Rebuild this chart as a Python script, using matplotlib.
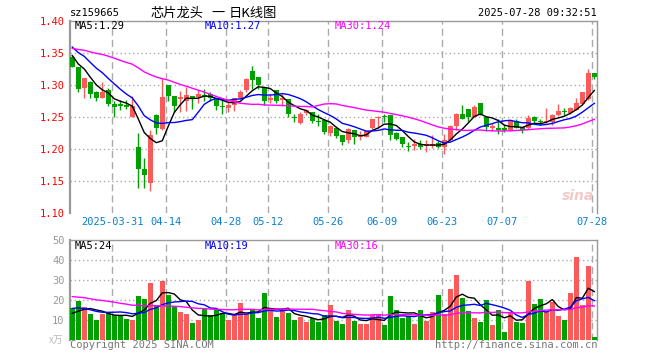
import math
import numpy as np
import pandas as pd
import matplotlib
matplotlib.use('Agg')
import matplotlib.pyplot as plt

# daily candles, 2025-03-20 .. 2025-07-28 (index 0..87)
opens = [1.344, 1.328, 1.295, 1.304, 1.289, 1.280, 1.292, 1.270, 1.270, 1.268,
         1.250, 1.203, 1.168, 1.147, 1.252, 1.231, 1.300, 1.282, 1.277, 1.274,
         1.282, 1.281, 1.284, 1.285, 1.279, 1.267, 1.263, 1.268, 1.280, 1.292,
         1.321, 1.312, 1.296, 1.276, 1.292, 1.276, 1.277, 1.250, 1.240, 1.256,
         1.257, 1.243, 1.245, 1.224, 1.233, 1.221, 1.213, 1.229, 1.218, 1.219,
         1.232, 1.248, 1.251, 1.253, 1.225, 1.218, 1.204, 1.204, 1.208, 1.204,
         1.205, 1.209, 1.202, 1.214, 1.236, 1.255, 1.262, 1.250, 1.271, 1.250,
         1.232, 1.232, 1.233, 1.230, 1.244, 1.234, 1.232, 1.249, 1.244, 1.242,
         1.241, 1.253, 1.259, 1.256, 1.261, 1.270, 1.277, 1.318]
closes = [1.328, 1.294, 1.311, 1.286, 1.280, 1.289, 1.270, 1.265, 1.267, 1.265,
          1.266, 1.169, 1.159, 1.221, 1.232, 1.281, 1.283, 1.266, 1.281, 1.284,
          1.278, 1.286, 1.282, 1.279, 1.267, 1.265, 1.269, 1.279, 1.289, 1.309,
          1.307, 1.300, 1.274, 1.280, 1.274, 1.280, 1.255, 1.248, 1.255, 1.260,
          1.244, 1.241, 1.226, 1.236, 1.220, 1.211, 1.231, 1.219, 1.220, 1.227,
          1.246, 1.250, 1.249, 1.221, 1.215, 1.207, 1.203, 1.207, 1.203, 1.208,
          1.208, 1.202, 1.214, 1.236, 1.255, 1.246, 1.250, 1.265, 1.255, 1.234,
          1.236, 1.230, 1.229, 1.244, 1.233, 1.230, 1.248, 1.243, 1.242, 1.243,
          1.253, 1.259, 1.257, 1.264, 1.272, 1.289, 1.318, 1.312]
highs = [1.346, 1.328, 1.311, 1.306, 1.290, 1.305, 1.295, 1.275, 1.276, 1.276,
         1.282, 1.225, 1.185, 1.230, 1.255, 1.310, 1.300, 1.283, 1.290, 1.297,
         1.282, 1.291, 1.293, 1.288, 1.280, 1.278, 1.274, 1.280, 1.292, 1.310,
         1.329, 1.312, 1.296, 1.286, 1.292, 1.285, 1.277, 1.254, 1.257, 1.262,
         1.257, 1.255, 1.247, 1.237, 1.236, 1.221, 1.232, 1.230, 1.228, 1.229,
         1.247, 1.251, 1.255, 1.253, 1.226, 1.218, 1.210, 1.215, 1.214, 1.213,
         1.221, 1.212, 1.223, 1.237, 1.256, 1.268, 1.262, 1.269, 1.271, 1.250,
         1.240, 1.247, 1.238, 1.245, 1.247, 1.234, 1.253, 1.251, 1.247, 1.263,
         1.254, 1.270, 1.263, 1.265, 1.280, 1.289, 1.324, 1.318]
lows = [1.327, 1.288, 1.279, 1.279, 1.275, 1.279, 1.267, 1.249, 1.261, 1.262,
        1.249, 1.139, 1.139, 1.134, 1.223, 1.229, 1.274, 1.257, 1.257, 1.259,
        1.262, 1.272, 1.274, 1.274, 1.261, 1.254, 1.257, 1.259, 1.278, 1.288,
        1.294, 1.294, 1.269, 1.271, 1.271, 1.267, 1.250, 1.242, 1.239, 1.253,
        1.240, 1.236, 1.223, 1.220, 1.217, 1.206, 1.209, 1.208, 1.213, 1.218,
        1.231, 1.232, 1.242, 1.213, 1.213, 1.203, 1.196, 1.198, 1.200, 1.195,
        1.201, 1.201, 1.191, 1.213, 1.230, 1.246, 1.242, 1.249, 1.253, 1.228,
        1.228, 1.223, 1.226, 1.228, 1.232, 1.224, 1.231, 1.240, 1.237, 1.240,
        1.237, 1.251, 1.253, 1.255, 1.260, 1.268, 1.276, 1.309]
# volume, 万
volumes = [16.0, 19.7, 16.5, 13.0, 10.0, 13.0, 13.7, 12.5, 12.2, 10.5,
           10.0, 22.0, 20.5, 28.5, 17.5, 29.5, 22.5, 17.0, 14.0, 13.0,
           8.5, 10.0, 15.5, 12.5, 15.3, 13.3, 10.0, 12.5, 18.5, 13.0,
           15.3, 11.0, 23.5, 16.0, 11.5, 15.0, 13.5, 10.0, 11.7, 9.0,
           10.8, 9.0, 12.5, 17.5, 9.5, 8.0, 15.0, 9.5, 8.0, 8.0,
           12.5, 13.0, 7.5, 22.0, 15.0, 11.0, 12.0, 8.0, 15.0, 9.5,
           14.0, 22.5, 13.0, 25.5, 32.5, 21.0, 14.5, 11.0, 9.0, 20.0,
           7.5, 15.0, 4.0, 14.0, 9.0, 8.5, 29.5, 18.0, 20.5, 14.0,
           19.0, 12.0, 10.0, 23.5, 41.5, 17.5, 37.0, 1.5]

# sessions before the visible window, only needed for the moving averages
prior_closes = [1.34, 1.35, 1.36, 1.35, 1.34, 1.35, 1.36, 1.37, 1.36, 1.35,
                1.34, 1.35, 1.35, 1.34, 1.36, 1.35, 1.37, 1.38, 1.37, 1.37,
                1.38, 1.37, 1.38, 1.37, 1.36, 1.36, 1.35, 1.35, 1.34]
prior_volumes = [28, 24, 30, 26, 22, 27, 25, 29, 23, 26, 24, 28, 25, 22, 27, 27,
                 21, 19, 22, 18, 17, 20, 19, 18, 17.5, 14, 12, 11, 13.5]

tick_idx = [7, 16, 26, 33, 43, 52, 62, 72, 87]
tick_labels = ['2025-03-31', '04-14', '04-28', '05-12', '05-26',
               '06-09', '06-23', '07-07', '07-28']
price_ticks = [1.10, 1.15, 1.20, 1.25, 1.30, 1.35, 1.40]
vol_ticks = [10, 20, 30, 40, 50]

RED = '#fa5a5a'
GREEN = '#00a000'
GRID = '#aaaaaa'
BORDER = '#999999'
DATE_BLUE = '#0a7fd0'
MA_COLORS = {5: 'black', 10: '#0000ff', 30: '#ff00ff'}
MONO = 'DejaVu Sans Mono'
CJK = ['Noto Sans CJK SC']


def moving_avg(prior, values, n):
    s = pd.Series(list(prior) + list(values))
    return s.rolling(n).mean().to_numpy()[len(prior):]


def trunc(v, nd):
    f = 10 ** nd
    return math.floor(v * f + 1e-9) / f


def fx(px):
    return px / 660


def fy(px):
    return 1 - px / 360


plt.rcParams['font.family'] = [MONO, 'Noto Sans CJK SC']
fig = plt.figure(figsize=(6.6, 3.6), dpi=100)
ax = fig.add_axes([fx(70), fy(212.7), fx(527), (212.7 - 20.7) / 360])
axv = fig.add_axes([fx(70), fy(340), fx(527), 100 / 360])

x = np.arange(len(closes))
o = np.array(opens)
c = np.array(closes)
colors = [RED if cc >= oo else GREEN for oo, cc in zip(o, c)]
grid_x = np.array(tick_idx) - 0.33

for a in (ax, axv):
    a.set_xlim(-0.38, 87.45)
    for gx in grid_x:
        a.axvline(gx, color=GRID, lw=1, ls=(0, (5, 3)), zorder=0)
    for side in ('top', 'right', 'left'):
        a.spines[side].set_color(BORDER)
        a.spines[side].set_linewidth(1)
    a.spines['left'].set_linewidth(1.6)
    a.spines['bottom'].set_visible(False)

# candles
ax.vlines(x, lows, highs, colors=colors, lw=1, zorder=2)
body_h = np.maximum(np.abs(c - o), 0.0012)
ax.bar(x, body_h, bottom=np.minimum(o, c), width=0.78, color=colors,
       linewidth=0, zorder=3)
for n in (5, 10, 30):
    ax.plot(x, moving_avg(prior_closes, closes, n), color=MA_COLORS[n],
            lw=1, zorder=4)

ax.set_ylim(1.10, 1.40)
ax.set_yticks(price_ticks)
ax.set_yticklabels(['%.2f' % v for v in price_ticks])
for v in price_ticks[1:-1]:
    ax.axhline(v, color=GRID, lw=1, ls=(0, (1, 2)), zorder=0)
ax.set_xticks(grid_x)
ax.set_xticklabels(tick_labels)
ax.tick_params(axis='y', length=0, pad=4, labelcolor='red', labelsize=7.5)
ax.tick_params(axis='x', length=0, pad=3, labelcolor=DATE_BLUE, labelsize=7.5)

# volume
axv.bar(x, volumes, width=0.8, color=colors, linewidth=0, zorder=3)
for n in (5, 10, 30):
    axv.plot(x, moving_avg(prior_volumes, volumes, n), color=MA_COLORS[n],
             lw=1, zorder=4)
axv.set_ylim(0, 50)
axv.set_yticks(vol_ticks)
for v in vol_ticks[:-1]:
    axv.axhline(v, color=GRID, lw=1, ls=(0, (1, 2)), zorder=0)
axv.set_xticks(grid_x)
axv.set_xticklabels([])
axv.tick_params(axis='y', length=0, pad=4, labelcolor=BORDER, labelsize=7.5)
axv.tick_params(axis='x', length=0)

# MA legends (values truncated like the source)
for n, xpx in ((5, 75), (10, 205), (30, 335)):
    mp = trunc(moving_avg(prior_closes, closes, n)[-1], 2)
    mv = int(trunc(moving_avg(prior_volumes, volumes, n)[-1], 0))
    fig.text(fx(xpx), fy(26), 'MA%d:%.2f' % (n, mp), color=MA_COLORS[n],
             fontsize=7.5, va='center', ha='left')
    fig.text(fx(xpx), fy(246), 'MA%d:%d' % (n, mv), color=MA_COLORS[n],
             fontsize=7.5, va='center', ha='left')

# header / footer
fig.text(fx(70), fy(13.5), 'sz159665', fontsize=7.5, va='center', ha='left')
fig.text(fx(150), fy(13.5), '芯片龙头', fontsize=9.5, va='center', ha='left',
         family=CJK)
fig.text(fx(218), fy(13.5), '一', fontsize=9.5, va='center', ha='center',
         family=CJK)
fig.text(fx(229), fy(13.5), '日K线图', fontsize=9.5, va='center', ha='left',
         family=CJK)
fig.text(fx(597), fy(13.5), '2025-07-28 09:32:51', fontsize=7.5, va='center',
         ha='right')
fig.text(fx(63), fy(340), 'x万', fontsize=7, va='center', ha='right',
         color='#bbbbbb', family=CJK)
fig.text(fx(70), fy(345.5), 'Copyright 2025 SINA.COM', fontsize=7.5,
         va='center', ha='left', color='#777777')
fig.text(fx(597), fy(345.5), 'http://finance.sina.com.cn', fontsize=7.5,
         va='center', ha='right', color='#777777')
fig.text(fx(594), fy(196), 'sina', fontsize=10, style='italic', weight='bold',
         va='center', ha='right', color='#f3c9c9', family=['DejaVu Sans'])

fig.savefig('out.png', dpi=100, facecolor='white')
